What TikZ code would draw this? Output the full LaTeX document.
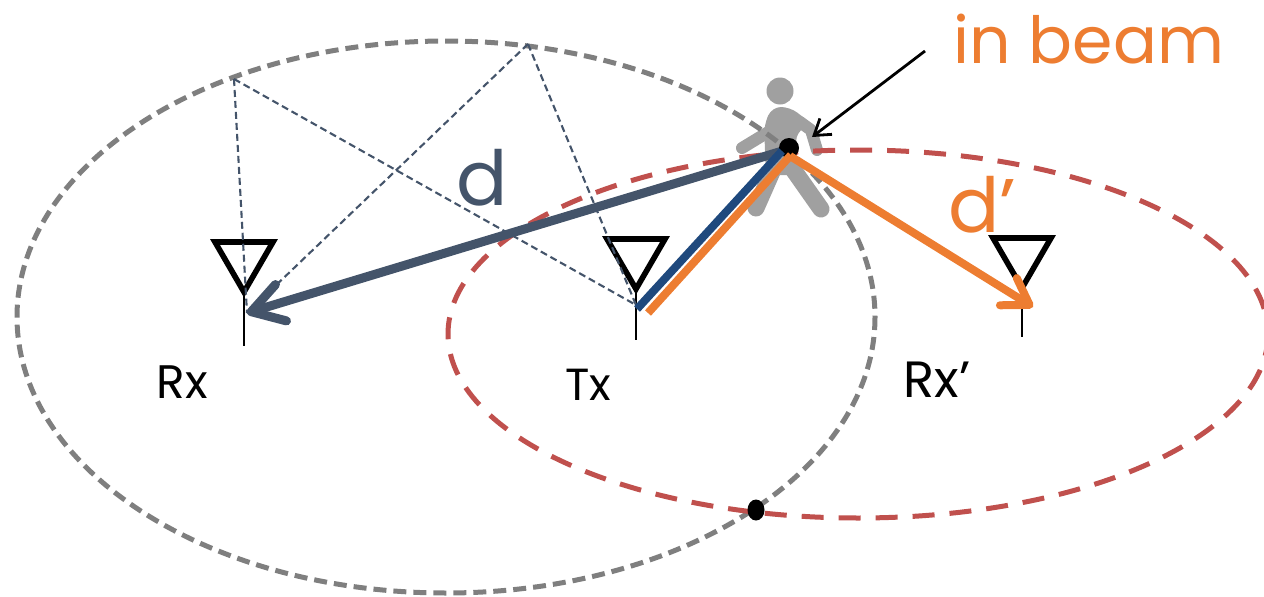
\documentclass[tikz,border=0pt]{standalone}
\usepackage{fontspec}
\setmainfont{Poppins}
\usetikzlibrary{arrows.meta,calc,shapes.geometric}
\definecolor{ellgrey}{HTML}{7F7F7F}
\definecolor{ellred}{HTML}{C0504D}
\definecolor{slate}{HTML}{44546A}
\definecolor{navy}{HTML}{1F497D}
\definecolor{orng}{HTML}{ED7D31}
\definecolor{pers}{HTML}{A0A0A0}
\tikzset{
  ant/.style={draw=black,line width=5.6pt,miter limit=10},
  antstem/.style={draw=black,line width=2.6pt},
  thin dash/.style={draw=slate,line width=2.1pt,dash pattern=on 7pt off 4pt},
  body/.style={draw=pers,line width=14pt,line cap=round,line join=round},
  lbl/.style={inner sep=0pt,anchor=center},
}
\newcommand{\antenna}[3]{%
  \draw[ant] (#1-29,#2-50) -- (#1+29,#2-50) -- (#1,#2) -- cycle;
  \draw[antstem] (#1,#2) -- (#1,#3);
}
\begin{document}
\begin{tikzpicture}[x=1pt,y=-1pt]
\useasboundingbox (0,0) rectangle (1264,597);
% person
\fill[pers] (780,91) circle (13.5);
\draw[body,line width=12pt] (742,148) -- (770,131);
\draw[body,line width=12pt] (800,122) -- (811,130) -- (817,150);
\fill[pers,rounded corners=9pt] (764,125) -- (772,107) -- (790,107) -- (812,124) -- (796,132) -- (797,175) -- (766,175) -- cycle;
\draw[body,line width=17pt] (775,165) -- (756,208);
\draw[body,line width=17pt] (790,165) -- (821,209);
% ellipses
\draw[ellgrey,line width=5pt,dash pattern=on 13pt off 7pt] (446,317) ellipse [x radius=429,y radius=276];
\draw[ellred,line width=5pt,dash pattern=on 22pt off 15pt] (858,334) ellipse [x radius=410,y radius=184];
% antennas
\antenna{244}{292}{346}
\antenna{636}{289}{340}
\antenna{1022}{288}{337}
% named points
\coordinate (refA) at (234,79);
\coordinate (refB) at (528,44);
\coordinate (rxpt) at (247,313);
\coordinate (txpt) at (636,305);
\coordinate (rxb) at (1033,307);
\coordinate (tgt) at (789,149);
\coordinate (navyA) at (637,309);
\coordinate (navyB) at (782,151);
\coordinate (orngA) at (648,313);
\coordinate (orngB) at (791,155);
\coordinate (orngC) at (790,156);
% reflections
\draw[thin dash] (refA) -- (rxpt);
\draw[thin dash] (refA) -- (txpt);
\draw[thin dash] (refB) -- (rxpt);
\draw[thin dash] (refB) -- (txpt);
% paths
\draw[slate,line width=9pt,-{Straight Barb[length=31pt,width=38pt,line width=9pt,round]}] (tgt) -- (rxpt);
\node[circle,fill=black,minimum size=20pt,inner sep=0pt] (p) at (789,148) {};
\draw[navy,line width=8pt] (navyA) -- (navyB);
\draw[orng,line width=8pt] (orngA) -- (orngB);
\draw[orng,line width=8pt,-{Straight Barb[length=25pt,width=32pt,line width=8pt,round]}] (orngC) -- (rxb);
\node[ellipse,fill=black,minimum width=17pt,minimum height=21pt,inner sep=0pt] (q) at (756,510) {};
% label arrow
\coordinate (arrtail) at (925,51);
\draw[black,line width=2.8pt,-{Straight Barb[length=15pt,width=20pt,line width=2.8pt]}] (arrtail) -- (812,137);
% labels
\node[lbl,text=orng,font=\fontsize{65}{70}\selectfont] (ib) at (1089,39) {in beam};
\node[lbl,text=slate,font=\fontsize{76}{80}\selectfont] (dl) at (482,178) {d};
\node[lbl,text=orng,font=\fontsize{76}{80}\selectfont] (dp) at (982,205) {d’};
\node[lbl,text=black,font=\fontsize{47}{50}\selectfont] (rx) at (182,382) {Rx};
\node[lbl,text=black,font=\fontsize{45}{50}\selectfont] (tx) at (588,385) {Tx};
\node[lbl,text=black,font=\fontsize{51}{54}\selectfont] (rxp) at (937,380) {Rx’};
\end{tikzpicture}
\end{document}
